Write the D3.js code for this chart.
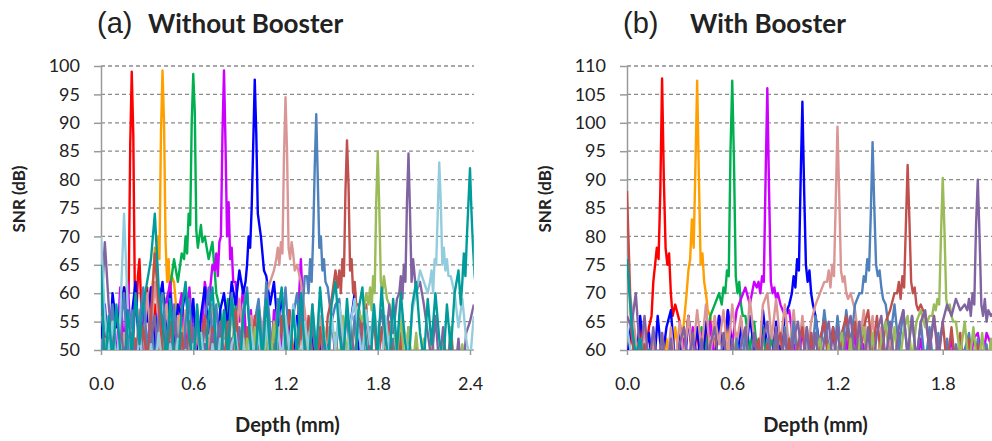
<!DOCTYPE html>
<html>
<head>
<meta charset="utf-8">
<script src="https://cdn.jsdelivr.net/npm/d3@7"></script>
<style>
  body { margin: 0; background: #fff; }
  svg text { font-family: Lato, "Open Sans", sans-serif; fill: #222; }
</style>
</head>
<body>
<svg id="chart" width="992" height="441"></svg>
<script>
// depth axis (mm) and shared settings
const depthTicks = [0, 0.6, 1.2, 1.8, 2.4];
const seriesColors = ["#FF0000", "#FFA000", "#00B050", "#CC00FF", "#0000FF", "#DA9694",
                      "#4F81BD", "#C0504D", "#9BBB59", "#8064A2", "#93CDDD", "#009C9C"];
const noiseStep = 0.025;
const shoulderOffsets = [-0.06, -0.05, -0.04, -0.03, -0.02, -0.01, 0.01, 0.02, 0.03, 0.04, 0.05, 0.06];

// (a) without booster
const snrTicksA = [50, 55, 60, 65, 70, 75, 80, 85, 90, 95, 100];
const peakDepthA = [0.2, 0.4, 0.6, 0.8, 1.0, 1.2, 1.4, 1.6, 1.8, 2.0, 2.2, 2.4];
const peakSnrA = [99, 99.2, 98.6, 99.2, 97.6, 94.5, 91.5, 86.9, 85, 84.6, 83, 82];
const shoulderA = [
  [58, 61, 57, 62, 60, 86, 88, 60, 56, 63, 66, 59],
  [63, 68, 64, 70, 66, 88, 90, 69, 62, 66, 60, 63],
  [66, 70, 67, 74, 72, 90, 92, 71, 68, 70, 72, 69],
  [64, 67, 63, 69, 70, 88, 86, 70, 76, 66, 68, 62],
  [62, 65, 70, 68, 75, 86, 88, 74, 72, 70, 67, 64],
  [66, 68, 65, 69, 67, 84, 85, 68, 66, 69, 67, 64],
  [63, 60, 66, 62, 70, 82, 80, 68, 70, 64, 66, 62],
  [61, 64, 60, 66, 63, 78, 79, 64, 66, 60, 62, 58],
  [58, 61, 57, 63, 60, 76, 75, 62, 60, 63, 61, 59],
  [60, 63, 59, 65, 62, 76, 74, 62, 66, 63, 60, 61],
  [62, 64, 60, 66, 65, 74, 76, 65, 68, 64, 66, 63],
  [58, 62, 67, 63, 70, 76, 74, 68, 63, 61, 60, 60]
];
const noiseStartA = [0, 0.2, 0.3, 0.05, 0, 0, 0, 0.2, 0.8, 0, 0, 0];
const noiseA = [
  [44,53,47,56,45,58,58,60,60,58,62,52,61,47,58,46,56,44,54,45,53,47,44,52,45,53,43,51,44,50,43,49,44,51,43,48,42],
  [44,52,46,55,47,58,60,66,64,63,58,62,54,58,47,55,45,53,48,44,52,45,51,44,50,43,52,45,43,50,44,49,42],
  [46,53,48,56,50,59,61,66,62,67,63,69,67,69,64,70,66,69,60,57,52,59,47,58,45,56,44,54,46,53,44,52,43,51,45,49,42],
  [45,57,48,61,50,62,47,60,52,58,46,61,50,60,48,58,62,51,56,60,49,61,52,57,48,62,58,65,60,68,
   67,65,63,62,55,61,49,57,46,58,45,55,44,57,47,53,44,56,45,52,66,50,43],
  [52,58,47,60,54,57,61,50,56,62,48,60,55,61,50,58,62,53,60,49,58,56,61,52,59,47,56,61,53,58,
   49,57,60,54,62,58,64,60,68,70,70,72,66,63,58,62,54,60,49,57,46,56,44,55,47,53,43,52,46,51,
   44,50,45,52,47,55,60,50,44],
  [44,52,46,54,48,45,53,47,55,49,57,50,60,52,62,55,49,58,51,46,56,48,57,50,45,55,47,56,49,58,
   51,46,55,48,57,50,59,52,47,56,51,58,53,60,62,64,66,68,67,66,68,65,62,57,50,58,47,56,46,54,
   45,53,44,51,43],
  [48,56,50,58,46,53,60,49,57,45,55,61,50,57,47,56,60,52,47,58,50,45,55,59,48,56,46,55,61,52,
   58,47,57,51,60,53,46,57,61,50,55,59,49,62,54,47,59,53,61,50,56,60,52,63,66,62,64,70,66,61,
   55,58,59,49,57,46,56,45,55,44,54,43,53,47,55,44,52,43,51,42,48],
  [44,52,46,54,48,56,67,58,50,45,55,49,44,53,47,55,48,44,52,56,47,54,45,53,48,55,46,57,50,44,
   54,47,56,49,44,53,48,55,46,56,49,57,50,45,55,47,56,49,44,54,46,56,59,64,61,63,64,62,60,58,
   52,58,48,56,46,54,47,55,48,44,53,46,54,45,52,44,51,43,50,42,47],
  [43,51,45,53,46,43,52,45,54,47,44,53,46,55,48,45,53,47,43,52,45,54,47,56,49,45,54,48,44,53,
   47,56,49,55,48,57,55,60,62,59,61,60,62,58,55,49,56,47,54,46,53,45,52,44,53,47,44,52,46,54,
   47,44,51,45,43],
  [56,69,58,50,45,55,48,44,53,47,55,49,44,52,56,47,45,53,48,55,49,44,52,46,54,48,43,51,46,53,
   47,55,49,44,52,46,54,48,45,52,46,53,48,55,49,45,53,47,55,49,44,52,57,51,46,55,48,45,53,47,
   55,49,56,50,46,54,48,55,49,56,50,45,53,57,51,58,53,59,62,60,60,63,67,62,58,53,48,56,47,54,
   46,53,45,52,44,53,55,58],
  [70,56,49,55,47,56,74,57,48,44,53,47,43,51,46,53,47,43,51,46,52,44,50,43,51,46,53,47,43,51,
   46,52,47,43,51,53,47,52,45,54,48,53,46,55,49,45,54,48,56,50,58,52,47,55,50,57,51,59,53,48,
   56,50,58,52,47,55,59,53,49,57,51,58,52,47,56,50,57,51,58,53,48,57,60,64,62,60,63,66,66,65,
   67,63,60,54,59,52,48,56],
  [65,46,56,48,58,50,45,57,49,60,51,58,62,66,74,61,55,48,59,50,46,57,62,52,47,58,49,45,56,61,
   50,46,57,49,59,51,45,56,60,50,46,57,48,59,50,45,56,61,51,46,57,49,60,50,46,58,49,61,52,47,
   58,62,53,48,59,50,45,57,61,51,46,58,49,61,52,47,59,50,60,52,47,58,62,53,48,59,51,60,52,47,
   58,50,60,64,67,63,66,61]
];

// (b) with booster
const snrTicksB = [60, 65, 70, 75, 80, 85, 90, 95, 100, 105, 110];
const peakDepthB = [0.2, 0.4, 0.6, 0.8, 1.0, 1.2, 1.4, 1.6, 1.8, 2.0, 2.2, 2.4];
const peakSnrB = [107.8, 107.4, 107.4, 106.1, 103.7, 99.3, 96.6, 92.6, 90.3, 90, null, null];
const shoulderB = [
  [66, 72, 75, 78, 76, 88, 90, 78, 75, 77, 70, 66],
  [70, 74, 76, 83, 78, 92, 90, 75, 77, 72, 70, 67],
  [68, 71, 70, 74, 73, 95, 93, 73, 70, 72, 68, 66],
  [71, 72, 70, 73, 72, 90, 88, 72, 70, 71, 69, 70],
  [70, 73, 71, 76, 74, 90, 88, 75, 72, 74, 70, 68],
  [72, 74, 71, 75, 73, 86, 87, 74, 72, 73, 70, 69],
  [70, 73, 72, 76, 74, 84, 85, 75, 73, 74, 71, 69],
  [70, 72, 69, 73, 71, 82, 83, 72, 70, 71, 68, 67],
  [66, 68, 67, 69, 68, 80, 81, 69, 67, 68, 66, 65],
  [67, 69, 66, 70, 68, 82, 80, 68, 66, 69, 65, 67],
  null,
  null
];
const noiseStartB = [0, 0.2, 0.3, 0.3, 0, 0, 0.6, 0, 1.0, 0, 0, 0];
const noiseB = [
  [56,63,58,64,57,64,70,74,75,76,74,68,65,59,66,57,64,56,63,55,62,58,54,61,55,53,60,54,52],
  [55,62,57,64,58,65,68,72,74,73,69,66,60,66,58,64,56,63,55,62,54,61,55,60,53,59,54,52,57],
  [55,61,57,63,58,64,60,66,68,70,71,73,72,70,68,66,60,65,57,64,56,63,55,62,54,61,53,60,54,59,53,52,57],
  [55,62,56,64,58,63,55,65,58,66,59,67,61,67,69,71,68,72,70,72,72,70,67,68,66,67,61,57,64,55,
   63,54,62,55,61,53,60,54,62,57,63,55,61,54,60,53,62,57,61,54,63,53,61,52,58,62,54,60,53,59,
   52,58,62,55,53,60,55,62,63,58,63,61,58],
  [58,65,57,66,59,63,55,66,58,64,67,57,63,55,66,59,64,56,65,60,57,66,58,67,59,56,65,58,66,60,
   56,67,60,57,65,58,66,68,72,75,74,72,70,66,60,66,57,64,56,63,55,62,54,61,53,63,55,52,60,53,57],
  [73,68,62,57,64,56,62,55,63,56,64,57,65,58,66,59,67,60,68,59,66,61,67,59,68,61,66,58,69,62,
   58,68,70,62,69,61,68,60,67,59,66,58,65,68,70,72,74,73,74,72,73,70,67,61,67,59,66,57,64,56,
   63,55,62,54,53],
  [54,62,55,63,56,53,61,54,62,55,63,56,64,57,65,58,54,64,57,66,59,67,60,56,66,59,67,61,68,70,
   72,75,74,73,70,68,62,68,60,67,59,66,58,65,57,64,56,63,55,62,54,61,53,60,63,55,62,54,61,53,57],
  [88,63,57,54,61,55,52,59,53,51,58,52,57,51,58,52,50,57,51,58,52,59,53,50,57,60,53,59,52,58,
   62,54,61,53,60,63,55,62,54,61,64,56,63,55,62,65,57,64,56,63,66,58,65,57,64,67,59,66,58,65,
   67,70,69,72,71,70,72,68,66,60,66,58,65,57,64,56,63,55,62,54,61,53,60,52,57],
  [53,60,52,59,62,54,61,53,60,63,55,62,54,61,64,56,63,55,62,65,57,64,56,63,66,58,65,67,64,66,
   68,67,68,66,69,65,59,65,57,64,56,63,55,62,54],
  [66,64,70,59,66,57,64,56,63,55,62,54,61,64,56,63,55,62,54,61,64,56,63,55,62,54,61,64,56,63,
   55,62,65,57,64,56,63,55,62,65,57,64,56,63,55,62,65,57,64,56,63,66,58,65,57,64,56,63,66,58,
   65,57,64,67,59,66,58,65,67,60,66,59,65,68,66,69,67,68,70,69,70,68,69,66,67],
  [64,59,56],
  [76,65,59,62,57,60,56]
];

// merge the noise floor with the peak samples of one trace
function buildTrace(start, noise, depth, snr, shoulder) {
  let pts = noise.map((v, k) => [start + k * noiseStep, v]);
  if (snr == null) return pts;
  pts = pts.filter(p => Math.abs(p[0] - depth) > 0.065);
  const peak = shoulderOffsets.map((o, k) => [depth + o, shoulder[k]]);
  peak.splice(6, 0, [depth, snr]);
  return pts.concat(peak).sort((a, b) => a[0] - b[0]);
}

const svg = d3.select("#chart");

function drawPanel(p) {
  const x = d3.scaleLinear().domain([0, 2.4]).range([p.left, p.left + 2.4 * p.pxPerMm]);
  const y = d3.scaleLinear().domain(d3.extent(p.snrTicks)).range([350, 66]);
  const right = x(p.maxDepth);

  const g = svg.append("g");

  // dashed gridlines
  g.append("g")
    .selectAll("line")
    .data(p.snrTicks.slice(1))
    .join("line")
    .attr("x1", p.left)
    .attr("x2", right)
    .attr("y1", d => y(d))
    .attr("y2", d => y(d))
    .attr("stroke", "#8a8a8a")
    .attr("stroke-width", 1.3)
    .attr("stroke-dasharray", "4,3");

  const yAxis = g.append("g")
    .attr("transform", `translate(${p.left},0)`)
    .call(d3.axisLeft(y).tickValues(p.snrTicks).tickSize(7).tickSizeOuter(0).tickPadding(14));

  const xAxis = g.append("g")
    .attr("transform", "translate(0,350)")
    .call(d3.axisBottom(x).tickValues(depthTicks.filter(d => d <= p.maxDepth))
      .tickFormat(d3.format(".1f")).tickSize(5).tickSizeOuter(0).tickPadding(22));
  xAxis.select(".domain").attr("d", `M${p.left},0H${right}`);

  [yAxis, xAxis].forEach(a => {
    a.select(".domain").attr("stroke", "#9a9a9a").attr("stroke-width", 1.5);
    a.selectAll(".tick line").attr("stroke", "#9a9a9a").attr("stroke-width", 1.5);
    a.selectAll(".tick text").style("font-size", "18px").attr("fill", "#222");
  });

  g.append("clipPath")
    .attr("id", "clip-" + p.id)
    .append("rect")
    .attr("x", p.left)
    .attr("y", 64)
    .attr("width", right - p.left)
    .attr("height", 350 - 64);

  const line = d3.line().x(d => x(d[0])).y(d => y(d[1]));

  const traces = seriesColors.map((c, i) =>
    buildTrace(p.noiseStart[i], p.noise[i], p.peakDepth[i], p.peakSnr[i], p.shoulder[i]));

  g.append("g")
    .attr("clip-path", `url(#clip-${p.id})`)
    .attr("fill", "none")
    .attr("stroke-width", 2.4)
    .attr("stroke-linejoin", "round")
    .selectAll("path")
    .data(traces)
    .join("path")
    .attr("stroke", (d, i) => seriesColors[i])
    .attr("d", line);

  // titles
  svg.append("text")
    .attr("x", p.left - 4)
    .attr("y", 33)
    .style("font-family", "'Liberation Sans', Arial, sans-serif")
    .style("font-size", "29px")
    .text(p.letter);

  svg.append("text")
    .attr("x", p.titleX)
    .attr("y", 33)
    .style("font-size", "26px")
    .style("font-weight", "bold")
    .text(p.title);

  svg.append("text")
    .attr("x", p.left + (x(p.maxDepth) - p.left) / 2)
    .attr("y", 432)
    .attr("text-anchor", "middle")
    .style("font-size", "20px")
    .style("font-weight", "bold")
    .text("Depth (mm)");

  svg.append("text")
    .attr("transform", `translate(${p.left - 76},199) rotate(-90)`)
    .attr("text-anchor", "middle")
    .style("font-size", "17px")
    .style("font-weight", "bold")
    .text("SNR (dB)");
}

drawPanel({
  id: "a", left: 101, pxPerMm: 153.75, maxDepth: 2.425,
  letter: "(a)", title: "Without Booster", titleX: 148,
  snrTicks: snrTicksA, peakDepth: peakDepthA, peakSnr: peakSnrA,
  shoulder: shoulderA, noiseStart: noiseStartA, noise: noiseA
});

drawPanel({
  id: "b", left: 627, pxPerMm: 175.4, maxDepth: 2.15,
  letter: "(b)", title: "With Booster", titleX: 690,
  snrTicks: snrTicksB, peakDepth: peakDepthB, peakSnr: peakSnrB,
  shoulder: shoulderB, noiseStart: noiseStartB, noise: noiseB
});
</script>
</body>
</html>
